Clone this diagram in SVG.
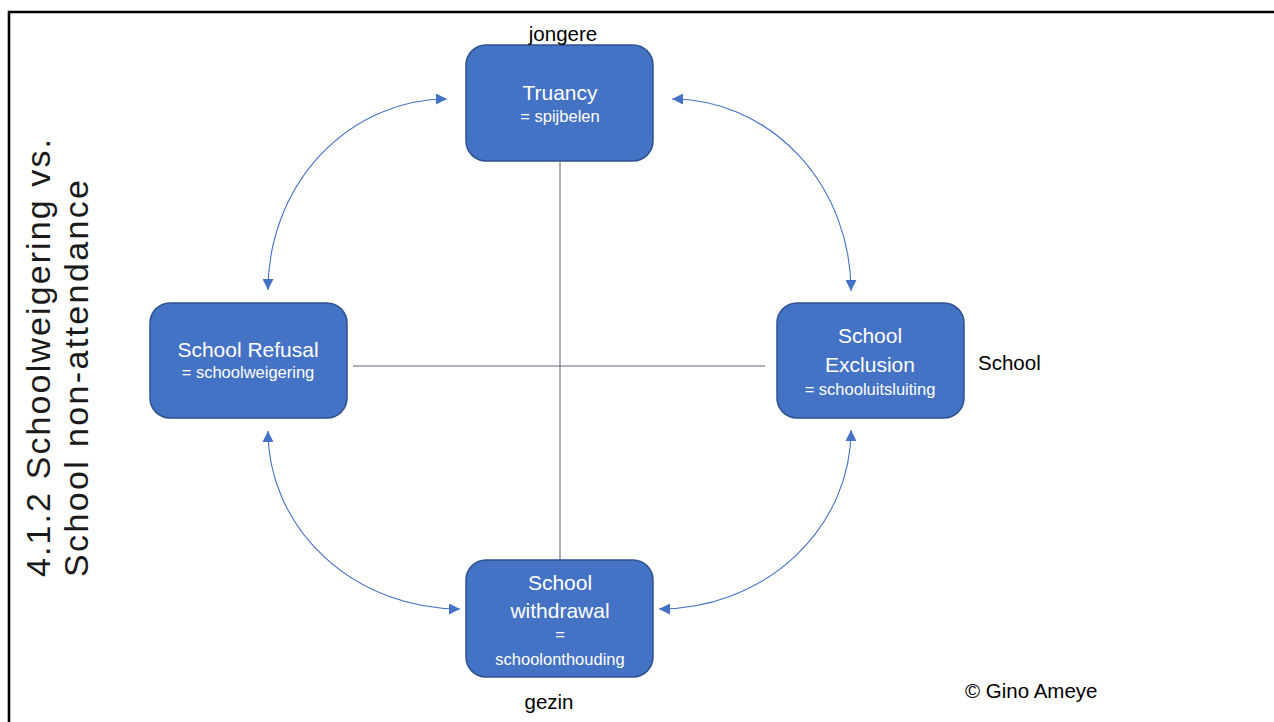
<svg xmlns="http://www.w3.org/2000/svg" width="1274" height="722" viewBox="0 0 1274 722">
<style>
.box{fill:#4472C4;stroke:#2F528F;stroke-width:1.5}
.t1{font-family:"Liberation Sans",Arial,sans-serif;font-size:21px;fill:#fff;text-anchor:middle}
.t2{font-family:"Liberation Sans",Arial,sans-serif;font-size:16.5px;fill:#fff;text-anchor:middle}
.lbl{font-family:"Liberation Sans",Arial,sans-serif;font-size:20.5px;fill:#000}
.title{font-family:"Liberation Sans",Arial,sans-serif;font-size:34px;fill:#1a1a1a}
.arc{fill:none;stroke:#4472C4;stroke-width:1.1}
.cross{stroke:#5a6478;stroke-width:1}
</style>
<defs>
<marker id="ah" markerUnits="userSpaceOnUse" markerWidth="11" markerHeight="11" refX="10" refY="5" orient="auto-start-reverse" viewBox="0 0 10 10">
<path d="M0,0 L10,5 L0,10 z" fill="#4472C4"/>
</marker>
</defs>
<rect width="1274" height="722" fill="#fff"/>
<g id="frame">
<line x1="9" y1="11" x2="9" y2="722" stroke="#000" stroke-width="2.6"/>
<line x1="8" y1="12" x2="1274" y2="12" stroke="#000" stroke-width="2.6"/>
</g>
<g id="title">
<text class="title" transform="translate(50,577) rotate(-90)" textLength="438" lengthAdjust="spacing">4.1.2 Schoolweigering vs.</text>
<text class="title" transform="translate(88,577) rotate(-90)" textLength="397" lengthAdjust="spacing">School non-attendance</text>
</g>
<g id="connectors">
<line class="cross" x1="560" y1="162" x2="560" y2="560"/>
<line class="cross" x1="353" y1="366" x2="765" y2="366"/>
<path class="arc" d="M447,99 A179,191 0 0 0 268,290" marker-start="url(#ah)" marker-end="url(#ah)"/>
<path class="arc" d="M672,99 A179,192 0 0 1 851,291" marker-start="url(#ah)" marker-end="url(#ah)"/>
<path class="arc" d="M268,431 A192,178 0 0 0 460,609" marker-start="url(#ah)" marker-end="url(#ah)"/>
<path class="arc" d="M851,430 A192,179 0 0 1 659,609" marker-start="url(#ah)" marker-end="url(#ah)"/>
</g>
<g id="truancy">
<rect class="box" x="466" y="45" width="187" height="116" rx="20"/>
<text class="t1" x="560" y="100">Truancy</text>
<text class="t2" x="560" y="122">= spijbelen</text>
</g>
<g id="refusal">
<rect class="box" x="150" y="303" width="197" height="115" rx="20"/>
<text class="t1" x="248" y="357">School Refusal</text>
<text class="t2" x="248" y="378">= schoolweigering</text>
</g>
<g id="exclusion">
<rect class="box" x="777" y="303" width="187" height="115" rx="20"/>
<text class="t1" x="870" y="343">School</text>
<text class="t1" x="870" y="372">Exclusion</text>
<text class="t2" x="870" y="395">= schooluitsluiting</text>
</g>
<g id="withdrawal">
<rect class="box" x="466" y="560" width="187" height="117" rx="20"/>
<text class="t1" x="560" y="590">School</text>
<text class="t1" x="560" y="618">withdrawal</text>
<text class="t2" x="560" y="640">=</text>
<text class="t2" x="560" y="665">schoolonthouding</text>
</g>
<g id="labels">
<text class="lbl" x="563" y="41" text-anchor="middle">jongere</text>
<text class="lbl" x="978" y="370">School</text>
<text class="lbl" x="549" y="709" text-anchor="middle">gezin</text>
<text class="lbl" x="965" y="698">© Gino Ameye</text>
</g>
</svg>
